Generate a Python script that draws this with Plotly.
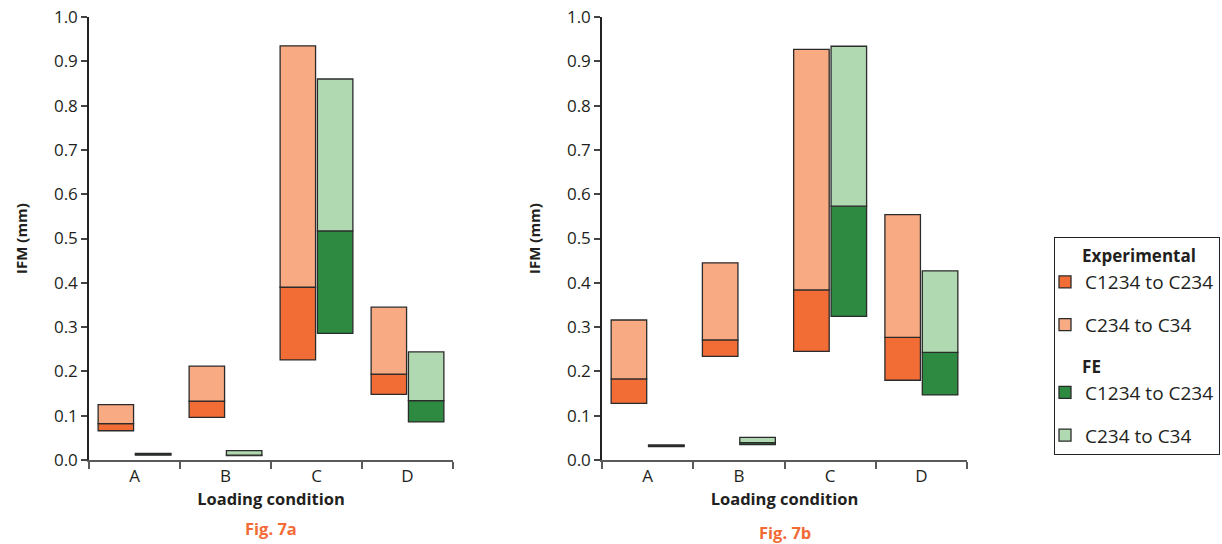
import plotly.graph_objects as go

categories = ["A", "B", "C", "D"]

# Fig 7a values (mm): bottom, middle (boundary), top of each floating stack
a_exp_bottom = [0.066, 0.096, 0.226, 0.148]
a_exp_mid    = [0.082, 0.133, 0.390, 0.194]
a_exp_top    = [0.125, 0.212, 0.935, 0.345]
a_fe_bottom  = [0.011, 0.010, 0.286, 0.086]
a_fe_mid     = [0.013, 0.011, 0.517, 0.134]
a_fe_top     = [0.015, 0.021, 0.860, 0.244]

# Fig 7b values (mm)
b_exp_bottom = [0.128, 0.234, 0.245, 0.180]
b_exp_mid    = [0.183, 0.271, 0.384, 0.277]
b_exp_top    = [0.316, 0.445, 0.927, 0.554]
b_fe_bottom  = [0.030, 0.035, 0.324, 0.147]
b_fe_mid     = [0.032, 0.039, 0.573, 0.243]
b_fe_top     = [0.034, 0.051, 0.934, 0.427]

yticks = [0.0, 0.1, 0.2, 0.3, 0.4, 0.5, 0.6, 0.7, 0.8, 0.9, 1.0]

C_EXP_DARK = "#F26D36"
C_EXP_LIGHT = "#F8AA82"
C_FE_DARK = "#2E8A41"
C_FE_LIGHT = "#B0D9B1"
OUTLINE = "#2b2b2b"
FIG_ORANGE = "#F26B35"
FONT = "Open Sans"
TXT = "#231f20"

fig = go.Figure()

def diff(top, bottom):
    return [t - b for t, b in zip(top, bottom)]

PAD = "\u00a0" * 5

def add_panel(xa, ya, eb, em, et, fb, fm, ft, show):
    specs = [
        ("exp", "exp1", "Experimental", "C1234 to C234", eb, diff(em, eb), C_EXP_DARK),
        ("exp", "exp2", None, "C234 to C34", em, diff(et, em), C_EXP_LIGHT),
        ("fe", "fe1", "FE", "C1234 to C234", fb, diff(fm, fb), C_FE_DARK),
        ("fe", "fe2", None, "C234 to C34", fm, diff(ft, fm), C_FE_LIGHT),
    ]
    for og, lg, gtitle, name, base, h, col in specs:
        kw = {}
        if gtitle:
            kw["legendgrouptitle"] = dict(text=PAD + gtitle,
                                          font=dict(family=FONT, size=17, color=TXT, weight="bold"))
        fig.add_trace(go.Bar(
            x=categories, y=h, base=base, name=name,
            offsetgroup=og, legendgroup=lg,
            marker=dict(color=col, line=dict(color=OUTLINE, width=1.3)),
            showlegend=show, xaxis=xa, yaxis=ya, **kw,
        ))

add_panel("x", "y", a_exp_bottom, a_exp_mid, a_exp_top, a_fe_bottom, a_fe_mid, a_fe_top, True)
add_panel("x2", "y2", b_exp_bottom, b_exp_mid, b_exp_top, b_fe_bottom, b_fe_mid, b_fe_top, False)

W, H = 1222, 544
mt, mb = 17, 84
ph = H - mt - mb

def px_x(p):
    return p / W

def px_y(p):
    return (H - mb - p) / ph

xcommon = dict(
    type="category", categoryorder="array", categoryarray=categories,
    showline=True, linecolor="#5a5a5a", linewidth=2,
    ticks="outside", tickson="boundaries", ticklen=7, tickwidth=1.5, tickcolor="#5a5a5a",
    tickfont=dict(family=FONT, size=17, color=TXT),
    showgrid=False, zeroline=False,
    title=dict(text="<b>Loading condition</b>", font=dict(family=FONT, size=16.5, color=TXT), standoff=1),
)
ycommon = dict(
    range=[0, 1.0], tickvals=yticks, ticktext=[f"{v:.1f}" for v in yticks],
    showline=True, linecolor="#222", linewidth=1.5,
    ticks="outside", ticklen=6, tickwidth=1.5, tickcolor="#444",
    tickfont=dict(family=FONT, size=17, color=TXT),
    showgrid=False, zeroline=False,
    title=dict(text="<b>IFM (mm)</b>", font=dict(family=FONT, size=15, color=TXT), standoff=23),
)

fig.update_layout(
    width=W, height=H,
    margin=dict(l=0, r=0, t=mt, b=mb),
    paper_bgcolor="white", plot_bgcolor="white",
    barmode="group", bargap=0.18, bargroupgap=0.05,
    xaxis=dict(domain=[px_x(89), px_x(453)], anchor="y", **xcommon),
    yaxis=dict(domain=[0, 1], anchor="x", **ycommon),
    xaxis2=dict(domain=[px_x(602), px_x(967)], anchor="y2", **xcommon),
    yaxis2=dict(domain=[0, 1], anchor="x2", **ycommon),
    legend=dict(
        x=px_x(1054), xanchor="left", y=px_y(237), yanchor="top",
        bordercolor="#222", borderwidth=1, bgcolor="white",
        font=dict(family=FONT, size=19, color=TXT),
        tracegroupgap=15, traceorder="grouped", indentation=-10,
    ),
    font=dict(family=FONT),
    annotations=[
        dict(text="<b>Fig. 7a</b>", x=px_x((89 + 453) / 2), y=px_y(528), xref="paper", yref="paper",
             xanchor="center", yanchor="middle",
             showarrow=False, font=dict(family=FONT, size=16.5, color=FIG_ORANGE)),
        dict(text="<b>Fig. 7b</b>", x=px_x((602 + 967) / 2), y=px_y(532), xref="paper", yref="paper",
             xanchor="center", yanchor="middle",
             showarrow=False, font=dict(family=FONT, size=16.5, color=FIG_ORANGE)),
    ],
)

fig.write_html("out.html", config={"displayModeBar": False},
               post_script="document.body.style.margin='0px';document.body.style.overflow='hidden';")
